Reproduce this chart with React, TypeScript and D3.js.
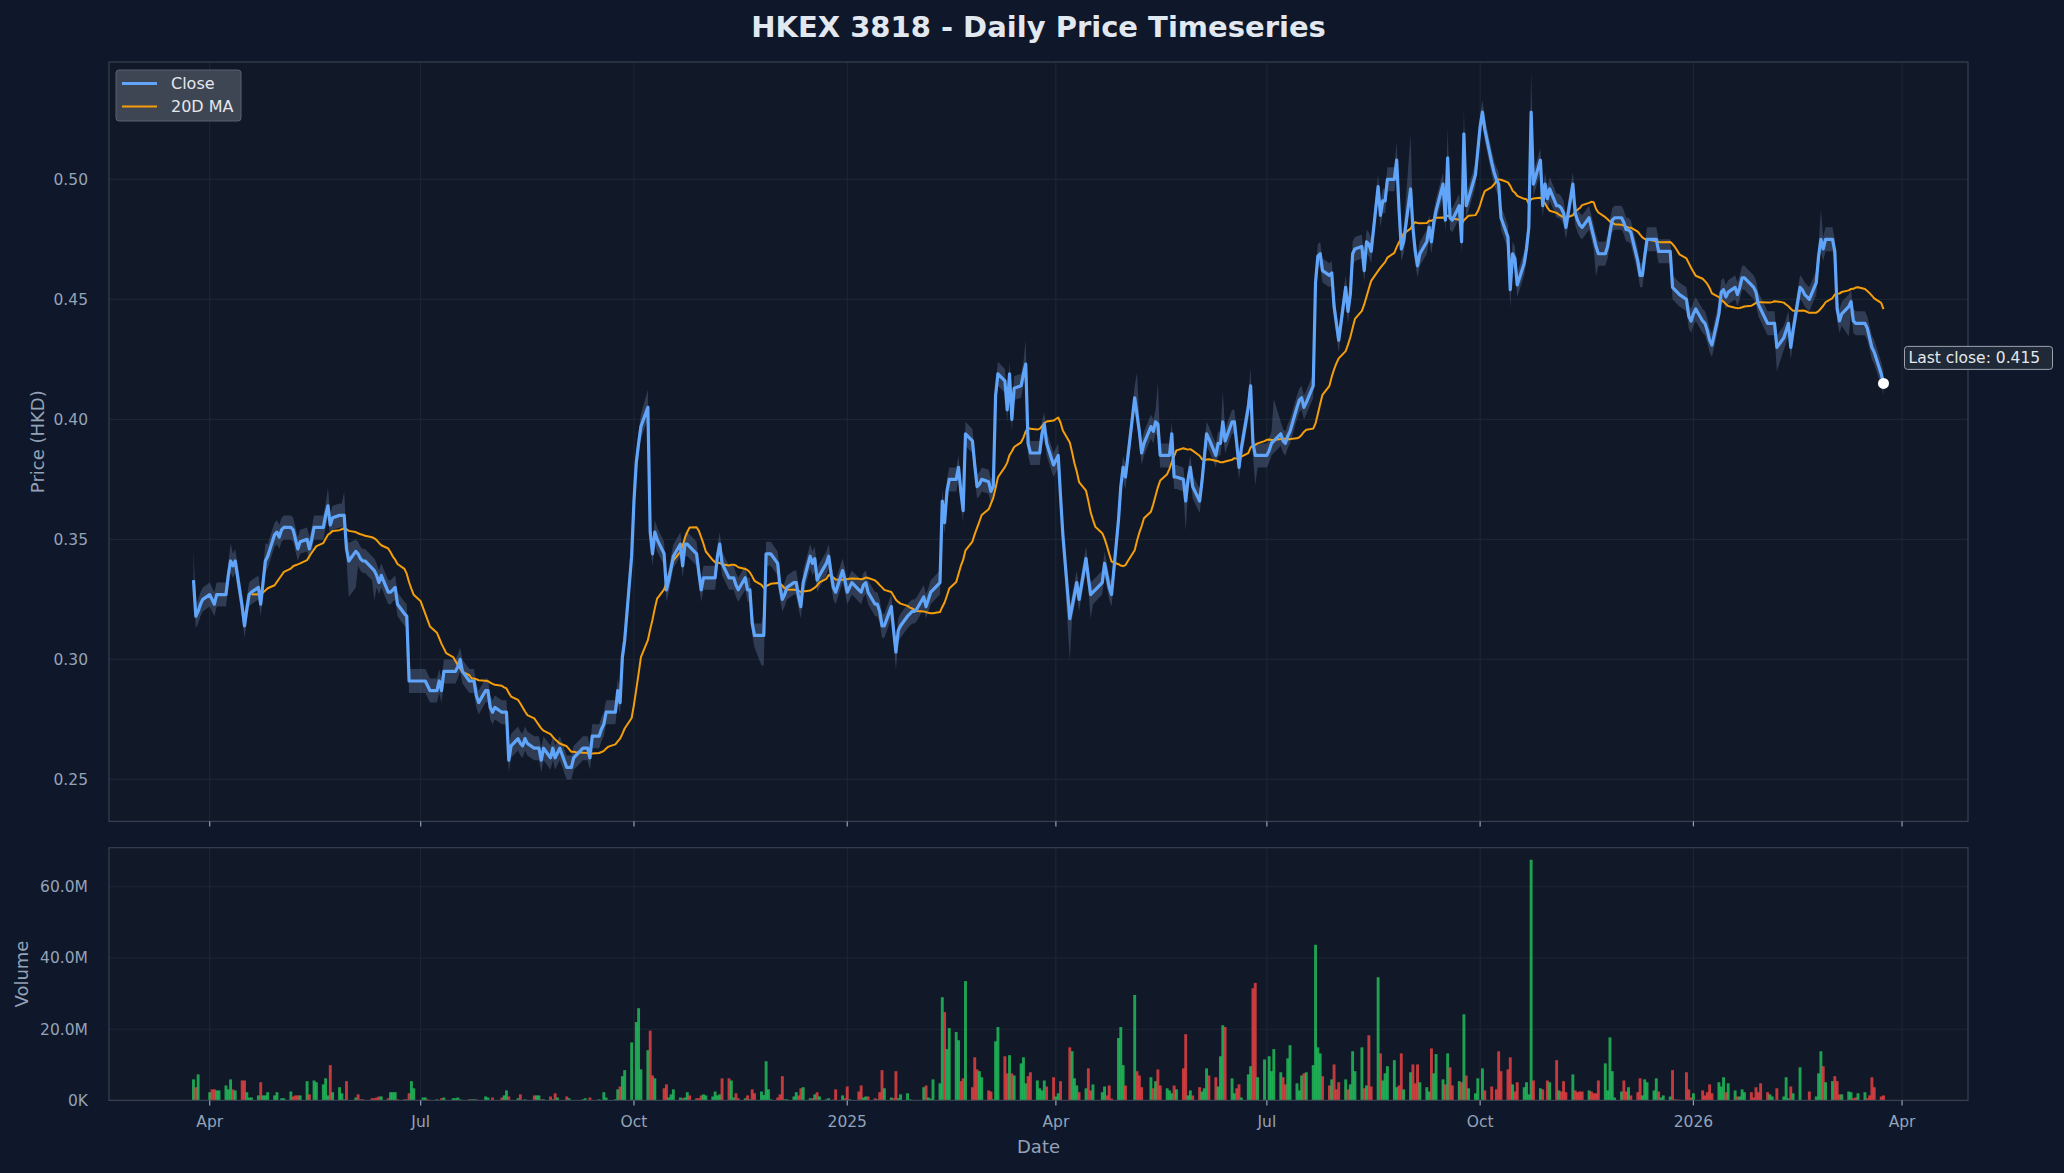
import React from 'react';
import * as d3 from 'd3';

// ---------- DATA ----------
const START_DATE = '2024-03-25'; // first trading day (weekday grid)
const TITLE = 'HKEX 3818 - Daily Price Timeseries';

// daily close, HKD x 1000 (one group of five = one week, Mon..Fri)
const closeMilli = [
  333,318,320,323,325, 327,325,323,327,327, 327,335,341,339,341, 322,314,321,327,328,
  330,323,332,341,343, 352,353,351,354,355, 355,354,350,346,349, 350,346,350,355,355,
  355,360,364,356,359, 360,360,360,346,341, 345,344,342,341,341, 338,337,335,332,335,
  328,328,329,330,323, 319,318,291,291,291, 291,291,291,289,287, 287,291,287,295,295,
  295,295,297,300,295, 291,291,291,285,282, 287,287,280,278,280, 278,278,278,258,264,
  267,265,264,267,265, 263,263,263,258,263, 259,263,259,261,263, 255,255,255,259,260,
  263,263,263,259,268, 268,271,273,278,278, 278,287,282,301,308, 343,366,382,390,397,
  405,353,344,353,350, 344,329,333,338,343, 348,339,348,348,347, 344,336,329,334,334,
  334,334,343,348,340, 334,334,334,331,329, 334,329,329,315,310, 310,310,344,344,344,
  340,330,325,327,330, 332,332,326,322,332, 343,340,342,333,335, 340,343,336,330,328,
  337,333,328,330,332, 329,328,331,332,328, 323,323,320,314,314, 322,312,303,312,314,
  318,319,320,320,321, 326,322,325,328,329, 332,366,357,370,375, 375,380,370,362,394,
  391,381,372,373,375, 374,370,372,410,419, 416,404,419,400,413, 414,419,423,390,386,
  386,386,394,398,390, 381,383,385,368,352, 317,322,327,332,325, 342,334,327,328,329,
  332,340,335,330,327, 358,372,380,376,384, 409,402,395,386,390, 397,395,399,398,385,
  385,385,394,376,376, 375,366,375,380,372, 366,374,384,394,392, 385,390,390,399,391,
  399,399,390,380,388, 405,414,390,385,385, 385,385,387,390,391, 394,391,390,393,395,
  405,408,409,405,407, 414,457,468,469,462, 460,461,447,440,433, 455,445,452,469,471,
  472,462,474,473,470, 497,485,491,491,500, 500,508,488,471,474, 496,480,470,464,469,
  474,480,474,482,487, 498,483,509,484,483, 489,474,519,489,492, 502,512,522,528,521,
  507,503,500,498,484, 476,454,469,467,456, 465,471,480,528,498, 508,489,498,492,496,
  489,489,488,486,480, 498,486,483,481,480, 484,480,476,472,469, 469,472,478,483,484,
  484,482,479,479,478, 466,460,460,468,475, 475,475,470,470,470, 470,455,454,453,452,
  450,443,441,444,446, 441,440,437,433,431, 444,453,454,451,453, 455,452,455,459,459,
  456,455,453,448,446, 440,440,440,440,430, 434,437,440,430,437, 455,454,452,451,450,
  457,468,475,471,475, 475,470,446,441,444, 447,449,441,440,440, 440,438,434,430,428,
  419,415,
];

// daily volume, millions of shares
const volumeM = [
  5.9,3.7,7.3,0,0, 2.3,3.1,3.1,2.8,2.8, 4.2,3.1,5.9,3.1,2.8, 5.6,5.6,2.3,0.8,0.8,
  1.4,5.1,1.4,1.4,2.3, 1.4,2.3,0,0.6,0.6, 2.5,1.1,1.4,1.4,1.4, 5.4,1.7,0,5.6,5.1,
  4.5,6.2,1.4,9.9,2.3, 3.7,2.0,0.3,5.4,0, 0.8,1.7,0.3,0.3,0, 0.6,0.6,0.8,1.1,1.1,
  0.6,2.3,2.3,2.3,0.3, 0.3,0.3,2.0,5.4,3.4, 0,0.8,0.8,0.3,0.1, 0.3,0,0.6,0.8,0,
  0.6,0.6,0.8,0.3,0, 0.3,0.3,0.3,0.3,0, 1.1,0.8,0,0.8,0, 0.8,1.4,2.8,1.1,0,
  0.6,1.7,0,0.3,0, 1.4,1.4,1.4,0.3,0.3, 1.1,0.3,2.0,0.8,0, 1.1,0.6,0,0,0,
  0.3,0.6,0,0.8,0, 0.3,0,2.3,0.8,0, 0.3,3.1,3.9,6.8,8.5, 16.3,0,22.0,25.9,8.7,
  14.1,19.6,7.0,6.2,0, 3.4,4.5,0.8,1.7,3.1, 0.8,0.6,0.8,2.3,1.4, 0.6,0.6,1.4,1.7,1.4,
  1.1,2.5,1.4,1.7,6.2, 6.2,5.6,0.8,2.0,0.6, 0.6,1.4,0.3,3.1,2.0, 2.5,1.5,11.0,3.1,0.3,
  0.8,1.7,6.8,0.3,0.3, 1.1,2.3,1.4,3.4,3.7, 0.6,0.6,1.7,2.3,1.1, 0.3,0.6,0,0.2,3.1,
  1.4,0.6,3.9,0.3,0, 2.5,4.2,0.8,1.1,1.1, 0.6,0.3,2.3,8.5,3.4, 0.8,0.6,8.2,0.6,1.7,
  2.0,0.3,0,0,0, 3.7,4.2,0.8,0.5,5.9, 4.8,29.0,24.8,14.4,20.3, 19.2,16.9,5.4,6.2,33.5,
  3.7,12.1,8.7,8.2,6.5, 2.8,2.5,0.3,16.6,20.6, 12.4,7.6,12.7,7.6,7.0, 10.4,12.1,4.8,6.8,7.9,
  5.6,3.4,2.8,5.6,3.9, 6.5,1.1,2.0,5.4,0, 14.9,13.8,6.2,4.2,2.3, 3.4,9.0,2.8,4.5,0,
  2.3,3.9,1.4,4.2,0.5, 17.5,20.6,9.9,4.2,0, 29.6,8.2,7.0,3.7,0, 6.5,3.4,5.4,8.7,4.2,
  3.4,2.8,2.0,4.2,3.1, 9.0,18.6,1.4,2.8,1.4, 3.7,2.5,3.4,9.0,7.0, 6.5,3.9,12.4,21.1,20.6,
  6.2,2.0,3.4,4.5,0.8, 7.3,9.6,31.5,33.0,6.5, 11.5,0,12.4,8.2,14.4, 7.9,6.5,4.5,11.8,15.5,
  4.8,2.8,7.0,7.6,7.9, 9.9,43.7,14.9,13.2,6.8, 4.2,5.9,10.1,3.1,5.1, 5.9,3.1,4.5,13.8,8.2,
  14.9,3.4,4.2,18.3,3.9, 34.6,13.2,5.6,7.6,9.6, 11.3,3.7,4.2,13.2,3.1, 7.9,10.1,4.8,10.1,5.1,
  3.7,2.5,14.6,7.6,13.0, 5.9,4.5,13.2,9.3,4.2, 5.4,5.1,24.2,7.0,3.4, 2.0,6.2,0,9.0,2.8,
  3.9,0,3.1,13.8,8.2, 8.7,12.1,4.5,2.5,5.1, 3.7,5.1,1.7,67.6,5.6, 3.4,3.1,0,5.6,5.1,
  11.3,2.8,2.5,5.4,2.3, 7.3,2.8,2.3,2.5,2.5, 2.8,2.5,2.0,2.0,5.6, 10.4,2.8,17.7,8.2,0.8,
  2.5,5.6,2.5,3.7,1.4, 2.3,6.2,1.4,5.9,5.1, 2.8,6.2,2.5,0.8,1.4, 1.1,8.5,0.3,0.2,0.2,
  7.9,3.1,0.8,2.0,0, 2.8,1.4,2.3,4.5,2.0, 5.1,3.9,6.5,2.3,4.8, 2.8,1.1,1.1,3.1,2.3,
  2.3,0.8,3.7,2.3,4.8, 2.3,1.7,1.1,0,3.4, 1.1,6.5,0.6,3.9,2.0, 9.3,0,0,0,2.5,
  1.1,7.6,13.8,9.6,5.1, 5.4,6.8,5.4,1.7,1.7, 2.5,2.3,0.6,0.8,2.0, 2.3,0.6,1.4,6.5,3.7,
  1.1,1.4,
];

// daily high above close / low below close, in steps of 0.0025 HKD (one digit per day, ten weeks per line)
const highAbove = [
  '52222 22222 22322 22222 22232 22222 22222 22222 22322 22423',
  '22222 22222 22222 22222 22222 22222 22222 22222 22222 22222',
  '22222 22222 22222 22222 22222 22222 22222 22222 32222 22222',
  '22222 22222 22222 22222 22222 24222 22222 22222 22222 22222',
  '22222 22222 22222 22222 22222 22222 22222 22222 22222 22222',
  '22222 22422 22222 22222 22222 22222 22222 22222 27222 22272',
  '22222 22222 22222 22252 22222 23222 22227 22222 22222 22222',
  '22222 22222 22222 22222 23222 92222 22222 22522 22422 22222',
  '22222 22222 22272 22222 22222 22222 22222 22222 22222 22222',
  '22222 22222 22222 22222 22222 22222 22222 22222 22222 22222',
  '22522 22222 22222 22222 22',
].join(' ');
const lowBelow = [
  '22222 22222 22222 22222 22222 22222 22222 22222 22222 22226',
  '62222 25222 22222 22222 22222 22222 22222 22222 22222 22222',
  '22222 22222 22222 22222 22222 22222 22222 22222 22222 22222',
  '22222 22222 22222 22222 22222 55222 22222 22222 22222 22222',
  '22222 22222 22222 22322 22222 22222 22222 22222 22222 22222',
  '22222 22222 22222 22222 72222 22422 22222 22222 22222 22222',
  '22222 25222 22222 22222 22222 22252 22222 22222 22222 22222',
  '22222 22222 22222 22222 22222 22222 22222 22222 22222 22222',
  '22222 23222 22222 22222 22222 22222 22252 22222 22222 22222',
  '22222 22222 22222 22222 22222 22222 22222 22224 22222 22222',
  '22222 22222 52222 22222 22',
].join(' ');

const xTickDates = ['2024-04-01', '2024-07-01', '2024-10-01', '2025-01-01', '2025-04-01', '2025-07-01', '2025-10-01', '2026-01-01', '2026-04-01'];
const xTickLabels = ['Apr', 'Jul', 'Oct', '2025', 'Apr', 'Jul', 'Oct', '2026', 'Apr'];
const priceTicks = [0.25, 0.3, 0.35, 0.4, 0.45, 0.5];
const priceTickLabels = ['0.25', '0.30', '0.35', '0.40', '0.45', '0.50'];
const volumeTicks = [0, 20, 40, 60];
const volumeTickLabels = ['0K', '20.0M', '40.0M', '60.0M'];
const PRICE_DOMAIN = [0.2325, 0.5489];
const MA_WINDOW = 20;

// ---------- STYLE / LAYOUT ----------
const W = 2064;
const H = 1173;
const L = 109;
const R = 1968;
const PT = 62;
const PB = 821.4;
const VT = 847.7;
const VB = 1100.4;
const FONT = 'DejaVu Sans, Verdana, sans-serif';
const C = {
  page: '#0f172a',
  panel: '#111827',
  grid: '#1e2837',
  spine: '#374151',
  tick: '#94a3b8',
  text: '#94a3b8',
  title: '#e2e8f0',
  close: '#60a5fa',
  ma: '#f59e0b',
  band: '#5b6f91',
  up: '#22c55e',
  down: '#ef4444',
};

const DAY = 86400000;
const parse = (s: string) => {
  const [y, m, d] = s.split('-').map(Number);
  return new Date(Date.UTC(y, m - 1, d));
};

export default function App() {
  const hiArr = highAbove.replace(/\s/g, '').split('').map(Number);
  const loArr = lowBelow.replace(/\s/g, '').split('').map(Number);
  const n = Math.min(closeMilli.length, volumeM.length, hiArr.length, loArr.length);
  const start = parse(START_DATE).getTime();
  const rows = d3.range(n).map((k) => {
    const date = new Date(start + (7 * Math.floor(k / 5) + (k % 5)) * DAY);
    const close = closeMilli[k] / 1000;
    return {
      date,
      close,
      high: close + hiArr[k] * 0.0025,
      low: close - loArr[k] * 0.0025,
      vol: volumeM[k],
      up: k === 0 ? true : closeMilli[k] >= closeMilli[k - 1],
    };
  });
  const ma = rows.map((r, i) =>
    i < MA_WINDOW - 1 ? null : d3.mean(rows.slice(i - MA_WINDOW + 1, i + 1), (d) => d.close)
  );

  const t0 = rows[0].date.getTime();
  const t1 = rows[n - 1].date.getTime();
  const pad = (t1 - t0) * 0.05;
  const x = d3.scaleUtc().domain([new Date(t0 - pad), new Date(t1 + pad)]).range([L, R]);
  const yP = d3.scaleLinear().domain(PRICE_DOMAIN).range([PB, PT]);
  const vMax = d3.max(rows, (d) => d.vol) as number;
  const yV = d3.scaleLinear().domain([0, vMax * 1.05]).range([VB, VT]);

  const band = d3
    .area<any>()
    .x((d) => x(d.date))
    .y0((d) => yP(d.low))
    .y1((d) => yP(d.high));
  const closeLine = d3
    .line<any>()
    .x((d) => x(d.date))
    .y((d) => yP(d.close));
  const maLine = d3
    .line<any>()
    .defined((d, i) => ma[i] != null)
    .x((d) => x(d.date))
    .y((d, i) => yP(ma[i] as number));

  const barW = (x(new Date(t0 + DAY)) - x(new Date(t0))) * 1.25;
  const last = rows[n - 1];
  const lx = x(last.date);
  const ly = yP(last.close);

  const tickDates = xTickDates.map(parse);

  return (
    <svg
      width={W}
      height={H}
      style={{ position: 'absolute', left: 0, top: 0, display: 'block' }}
      fontFamily={FONT}
    >
      <rect x={0} y={0} width={W} height={H} fill={C.page} />
      <text x={(L + R) / 2} y={37} textAnchor="middle" fontSize={29} fontWeight="bold" fill={C.title}>
        {TITLE}
      </text>

      {/* ---- price panel ---- */}
      <rect x={L} y={PT} width={R - L} height={PB - PT} fill={C.panel} />
      {tickDates.map((d, i) => (
        <line key={'gx' + i} x1={x(d)} x2={x(d)} y1={PT} y2={PB} stroke={C.grid} strokeWidth={1} />
      ))}
      {priceTicks.map((v, i) => (
        <line key={'gy' + i} x1={L} x2={R} y1={yP(v)} y2={yP(v)} stroke={C.grid} strokeWidth={1} />
      ))}
      <path d={band(rows) as string} fill={C.band} opacity={0.42} />
      <path d={maLine(rows) as string} fill="none" stroke={C.ma} strokeWidth={2} strokeLinejoin="round" />
      <path d={closeLine(rows) as string} fill="none" stroke={C.close} strokeWidth={3.2} strokeLinejoin="round" />
      <circle cx={lx} cy={ly} r={5.5} fill="#ffffff" />
      <rect x={L} y={PT} width={R - L} height={PB - PT} fill="none" stroke={C.spine} strokeWidth={1.2} />
      {tickDates.map((d, i) => (
        <line key={'tx' + i} x1={x(d)} x2={x(d)} y1={PB} y2={PB + 5} stroke={C.tick} strokeWidth={1.2} />
      ))}
      {priceTicks.map((v, i) => (
        <text key={'ty' + i} x={L - 21} y={yP(v)} dy="0.35em" textAnchor="end" fontSize={15.5} fill={C.text}>
          {priceTickLabels[i]}
        </text>
      ))}
      <text
        transform={`translate(44, ${(PT + PB) / 2}) rotate(-90)`}
        textAnchor="middle"
        fontSize={18}
        fill={C.text}
      >
        Price (HKD)
      </text>

      {/* legend */}
      <rect x={116} y={70} width={125} height={51} rx={3} fill="#414856" stroke="#5f6776" strokeWidth={1} opacity={0.95} />
      <line x1={122} x2={157} y1={83.5} y2={83.5} stroke={C.close} strokeWidth={3.2} />
      <text x={171} y={89} fontSize={16} fill="#e5e7eb">
        Close
      </text>
      <line x1={122} x2={157} y1={106.5} y2={106.5} stroke={C.ma} strokeWidth={2} />
      <text x={171} y={112} fontSize={16} fill="#e5e7eb">
        20D MA
      </text>

      {/* last close annotation */}
      <rect x={lx + 21} y={ly - 37} width={148} height={23} rx={3} fill="#1f2937" stroke="#9ca3af" strokeWidth={1} />
      <text x={lx + 25} y={ly - 20} fontSize={15.5} fill="#e5e7eb">
        {`Last close: ${last.close.toFixed(3)}`}
      </text>

      {/* ---- volume panel ---- */}
      <rect x={L} y={VT} width={R - L} height={VB - VT} fill={C.panel} />
      {tickDates.map((d, i) => (
        <line key={'vgx' + i} x1={x(d)} x2={x(d)} y1={VT} y2={VB} stroke={C.grid} strokeWidth={1} />
      ))}
      {volumeTicks.map((v, i) => (
        <line key={'vgy' + i} x1={L} x2={R} y1={yV(v)} y2={yV(v)} stroke={C.grid} strokeWidth={1} />
      ))}
      {rows.map((d, i) =>
        d.vol > 0 ? (
          <rect
            key={'b' + i}
            x={x(d.date) - barW / 2}
            y={yV(d.vol)}
            width={barW}
            height={VB - yV(d.vol)}
            fill={d.up ? C.up : C.down}
            opacity={0.8}
          />
        ) : null
      )}
      <rect x={L} y={VT} width={R - L} height={VB - VT} fill="none" stroke={C.spine} strokeWidth={1.2} />
      {tickDates.map((d, i) => (
        <g key={'vtx' + i}>
          <line x1={x(d)} x2={x(d)} y1={VB} y2={VB + 5} stroke={C.tick} strokeWidth={1.2} />
          <text x={x(d)} y={1127} textAnchor="middle" fontSize={15.5} fill={C.text}>
            {xTickLabels[i]}
          </text>
        </g>
      ))}
      {volumeTicks.map((v, i) => (
        <text key={'vty' + i} x={L - 21} y={yV(v)} dy="0.35em" textAnchor="end" fontSize={15.5} fill={C.text}>
          {volumeTickLabels[i]}
        </text>
      ))}
      <text
        transform={`translate(28, ${(VT + VB) / 2}) rotate(-90)`}
        textAnchor="middle"
        fontSize={18}
        fill={C.text}
      >
        Volume
      </text>
      <text x={(L + R) / 2} y={1153} textAnchor="middle" fontSize={18} fill={C.text}>
        Date
      </text>
    </svg>
  );
}
